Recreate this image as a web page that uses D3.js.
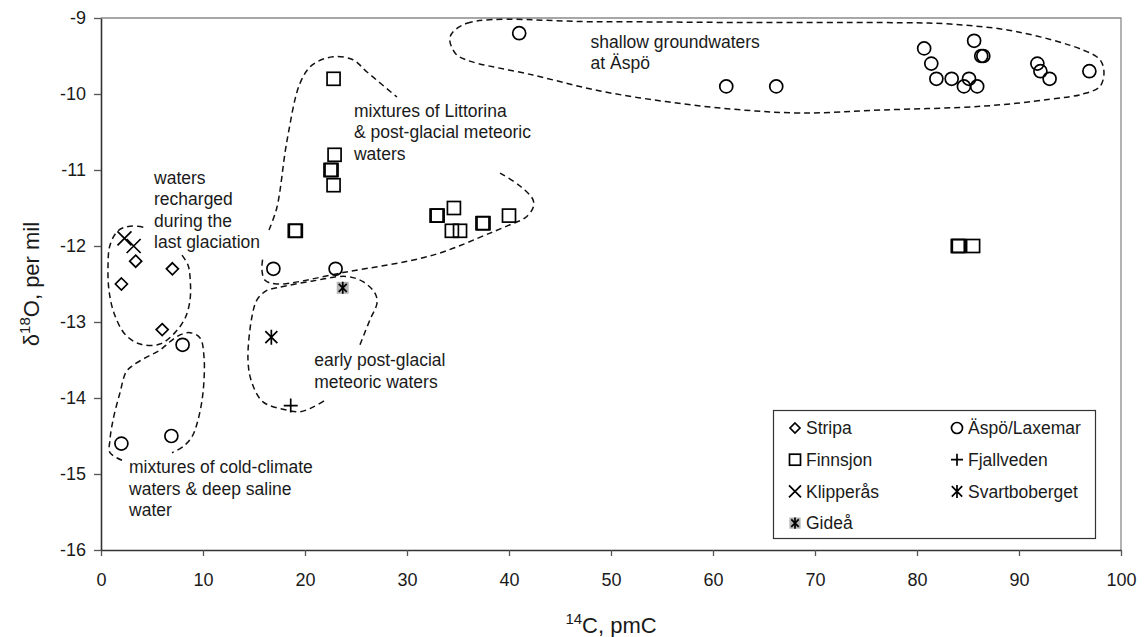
<!DOCTYPE html>
<html>
<head>
<meta charset="utf-8">
<script src="https://cdn.jsdelivr.net/npm/d3@7"></script>
<style>
  body { margin: 0; background: #fff; }
  svg text { font-family: "Liberation Sans", Arial, sans-serif; fill: #1a1a1a; }
</style>
</head>
<body>
<svg id="chart" width="1145" height="637"></svg>
<script>
// ---- axis ticks ----
const xTicks = [0, 10, 20, 30, 40, 50, 60, 70, 80, 90, 100];
const yTicks = [-16, -15, -14, -13, -12, -11, -10, -9];

// ---- samples: [14C pmC, d18O per mil] ----
const stripa = [[3.4, -12.2], [7.0, -12.3], [2.0, -12.5], [6.0, -13.1]];
const aspoLaxemar = [
  [16.9, -12.3], [23.0, -12.3], [8.0, -13.3], [2.0, -14.6], [6.9, -14.5],
  [41.0, -9.2], [61.3, -9.9], [66.2, -9.9],
  [80.7, -9.4], [81.4, -9.6], [81.9, -9.8], [83.4, -9.8], [85.1, -9.8],
  [84.6, -9.9], [85.9, -9.9], [85.6, -9.3], [86.3, -9.5], [86.5, -9.5],
  [91.8, -9.6], [92.1, -9.7], [93.0, -9.8], [96.9, -9.7]
];
const finnsjon = [
  [22.8, -9.8], [22.9, -10.8], [22.5, -11.0], [22.6, -11.0], [22.8, -11.2],
  [19.1, -11.8], [19.0, -11.8], [33.0, -11.6], [32.9, -11.6], [34.6, -11.5],
  [34.4, -11.8], [35.2, -11.8], [37.5, -11.7], [37.4, -11.7], [40.0, -11.6],
  [84.0, -12.0], [84.1, -12.0], [85.5, -12.0]
];
const fjallveden = [[18.6, -14.1]];
const klipperas = [[2.3, -11.9], [3.2, -12.0]];
const svartboberget = [[16.7, -13.2]];
const gidea = [[23.7, -12.55]];

const seriesNames = ["Stripa", "Äspö/Laxemar", "Finnsjon", "Fjallveden", "Klipperås", "Svartboberget", "Gideå"];
const seriesKinds = ["diamond", "circle", "square", "plus", "cross", "star", "starBox"];
const seriesData = [stripa, aspoLaxemar, finnsjon, fjallveden, klipperas, svartboberget, gidea];

// ---- dashed outlines of the water groups, in data units ----
const shallowOutline = [
  [34.22, -9.25], [35.88, -9.07], [48.92, -9.05], [63.63, -9.06], [76.67, -9.06],
  [83.24, -9.08], [89.80, -9.18], [96.27, -9.42], [97.94, -9.55], [98.33, -9.71],
  [97.94, -9.90], [96.27, -10.00], [93.04, -10.07], [86.47, -10.16], [76.67, -10.21],
  [68.53, -10.25], [61.96, -10.20], [55.39, -10.10], [48.92, -9.96], [42.35, -9.75],
  [35.78, -9.55], [34.71, -9.46]
];
const littorinaUpper = [
  [16.47, -11.79], [17.25, -11.49], [18.24, -10.61], [19.51, -9.86], [20.69, -9.62],
  [22.75, -9.51], [24.71, -9.55], [26.08, -9.71], [29.02, -10.04]
];
const littorinaLower = [
  [39.12, -11.04], [41.08, -11.21], [42.35, -11.39], [42.35, -11.50], [41.57, -11.63],
  [40.10, -11.72], [38.14, -11.83], [32.55, -12.12], [23.73, -12.35], [17.25, -12.50],
  [16.08, -12.45], [15.78, -12.32], [15.88, -12.14]
];
const earlyOutline = [
  [25.39, -13.30], [26.37, -12.97], [27.06, -12.75], [26.86, -12.62], [25.69, -12.47],
  [24.02, -12.40], [20.78, -12.46], [17.25, -12.55], [16.18, -12.59], [15.29, -12.71],
  [14.80, -12.93], [14.41, -13.50], [14.80, -13.80], [15.88, -14.05], [18.24, -14.16],
  [19.51, -14.18], [20.78, -14.12], [21.96, -14.03]
];
const glacialOutline = [
  [7.94, -12.12], [8.53, -12.25], [8.73, -12.41], [8.73, -12.71], [8.24, -12.95],
  [7.25, -13.14], [5.78, -13.29], [3.82, -13.29], [2.35, -13.16], [1.27, -12.88],
  [0.78, -12.58], [0.69, -12.25], [0.88, -11.99], [1.67, -11.80], [2.84, -11.74],
  [4.51, -11.76]
];
const coldOutline = [
  [2.06, -14.82], [0.88, -14.72], [0.88, -14.55], [1.18, -14.29], [1.86, -13.93],
  [2.45, -13.66], [3.14, -13.57], [4.51, -13.46], [5.78, -13.37], [6.76, -13.26],
  [7.75, -13.17], [8.73, -13.14], [9.71, -13.21], [10.10, -13.46], [10.00, -13.93],
  [9.51, -14.29], [8.92, -14.51], [8.04, -14.64], [6.96, -14.72]
];

// ---- group labels: anchor [14C, d18O] of first line, and lines ----
const groupLabels = [
  { at: [5.2, -11.18], lines: ["waters", "recharged", "during the", "last glaciation"] },
  { at: [24.8, -10.30], lines: ["mixtures of Littorina", "& post-glacial meteoric", "waters"] },
  { at: [48.0, -9.39], lines: ["shallow groundwaters", "at Äspö"] },
  { at: [20.9, -13.58], lines: ["early post-glacial", "meteoric waters"] },
  { at: [2.75, -14.99], lines: ["mixtures of cold-climate", "waters & deep saline", "water"] }
];

// ---- layout ----
const svg = d3.select("#chart");
const x = d3.scaleLinear().domain([0, 100]).range([101, 1121]);
const y = d3.scaleLinear().domain([-16, -9]).range([550, 18]);

// plot frame (top/right)
svg.append("path")
  .attr("d", `M${x(0)},${y(-9)}H${x(100)}V${y(-16)}`)
  .attr("fill", "none").attr("stroke", "#8a8a8a").attr("stroke-width", 1.3);

// axes; labels use a plain hyphen-minus
const fmt = d => String(d);
const xAxis = svg.append("g")
  .attr("transform", `translate(0,${y(-16)})`)
  .call(d3.axisBottom(x).tickValues(xTicks).tickFormat(fmt).tickSize(6).tickSizeOuter(0).tickPadding(17));
const yAxis = svg.append("g")
  .attr("transform", `translate(${x(0)},0)`)
  .call(d3.axisLeft(y).tickValues(yTicks).tickFormat(fmt).tickSize(7).tickSizeOuter(0).tickPadding(8));
[xAxis, yAxis].forEach(a => {
  a.select(".domain").attr("stroke", "#333").attr("stroke-width", 1.6);
  a.selectAll(".tick line").attr("stroke", "#555").attr("stroke-width", 1.3);
  a.selectAll(".tick text").attr("font-size", 18).attr("fill", "#1a1a1a")
    .attr("font-family", '"Liberation Sans", Arial, sans-serif');
});

// axis titles
const yTitle = svg.append("text")
  .attr("transform", `translate(39,${(y(-9) + y(-16)) / 2}) rotate(-90)`)
  .attr("text-anchor", "middle").attr("font-size", 22);
yTitle.append("tspan").text("δ");
yTitle.append("tspan").attr("font-size", 15).attr("dy", -9).text("18");
yTitle.append("tspan").attr("dy", 9).text("O, per mil");

const xTitle = svg.append("text")
  .attr("x", (x(0) + x(100)) / 2).attr("y", 633)
  .attr("text-anchor", "middle").attr("font-size", 22);
xTitle.append("tspan").attr("font-size", 15).attr("dy", -9).text("14");
xTitle.append("tspan").attr("dy", 9).text("C, pmC");

// dashed outlines
const openLine = d3.line().x(d => x(d[0])).y(d => y(d[1])).curve(d3.curveCatmullRom.alpha(0.5));
const closedLine = d3.line().x(d => x(d[0])).y(d => y(d[1])).curve(d3.curveCatmullRomClosed.alpha(0.5));
const outlines = svg.append("g").attr("fill", "none").attr("stroke", "#111")
  .attr("stroke-width", 1.5).attr("stroke-dasharray", "6,4");
outlines.append("path").attr("d", closedLine(shallowOutline));
[littorinaUpper, littorinaLower, earlyOutline, glacialOutline, coldOutline].forEach(o =>
  outlines.append("path").attr("d", openLine(o)));

// group labels
groupLabels.forEach(l => {
  const t = svg.append("text").attr("font-size", 17.5)
    .attr("x", x(l.at[0])).attr("y", y(l.at[1]));
  l.lines.forEach((s, i) => t.append("tspan").attr("x", x(l.at[0])).attr("dy", i ? 21.5 : 0).text(s));
});

// marker glyphs
function marker(g, kind, s) {
  const sw = 1.7;
  if (kind === "diamond") {
    g.append("path").attr("d", `M0,${-s}L${s},0L0,${s}L${-s},0Z`).attr("fill", "#fff").attr("stroke", "#000").attr("stroke-width", sw);
  } else if (kind === "circle") {
    g.append("circle").attr("r", s).attr("fill", "none").attr("stroke", "#000").attr("stroke-width", sw);
  } else if (kind === "square") {
    g.append("rect").attr("x", -s).attr("y", -s).attr("width", 2 * s).attr("height", 2 * s)
      .attr("fill", "none").attr("stroke", "#000").attr("stroke-width", sw);
  } else if (kind === "plus") {
    g.append("path").attr("d", `M${-s},0H${s}M0,${-s}V${s}`).attr("stroke", "#000").attr("stroke-width", sw);
  } else if (kind === "cross") {
    g.append("path").attr("d", `M${-s},${-s}L${s},${s}M${-s},${s}L${s},${-s}`).attr("stroke", "#000").attr("stroke-width", sw);
  } else if (kind === "star") {
    const a = s * 0.8;
    g.append("path").attr("d", `M${-a},${-a}L${a},${a}M${-a},${a}L${a},${-a}M0,${-s}V${s}`).attr("stroke", "#000").attr("stroke-width", sw);
  } else if (kind === "starBox") {
    const b = s * 0.75, a = s * 0.5;
    g.append("rect").attr("x", -b).attr("y", -b).attr("width", 2 * b).attr("height", 2 * b).attr("fill", "#b5b5b5");
    g.append("path").attr("d", `M${-a},${-a}L${a},${a}M${-a},${a}L${a},${-a}M0,${-b}V${b}`).attr("stroke", "#000").attr("stroke-width", 1.7);
  }
}

const plotSize = { diamond: 6, circle: 6.5, square: 6.5, plus: 7, cross: 7, star: 7.5, starBox: 8 };
seriesData.forEach((data, i) => {
  const kind = seriesKinds[i];
  svg.append("g").selectAll("g").data(data).join("g")
    .attr("transform", d => `translate(${x(d[0])},${y(d[1])})`)
    .each(function () { marker(d3.select(this), kind, plotSize[kind]); });
});

// legend
const lg = svg.append("g");
lg.append("rect").attr("x", 773.5).attr("y", 410.5).attr("width", 322).attr("height", 128)
  .attr("fill", "#fff").attr("stroke", "#333").attr("stroke-width", 1.2);
const legendSize = { diamond: 5, circle: 5.5, square: 5.5, plus: 6, cross: 6, star: 6.5, starBox: 7.5 };
seriesNames.forEach((name, i) => {
  const col = i % 2, row = Math.floor(i / 2);
  const mx = col ? 957 : 795, my = 428 + row * 31.7;
  const g = lg.append("g").attr("transform", `translate(${mx},${my})`);
  marker(g, seriesKinds[i], legendSize[seriesKinds[i]]);
  lg.append("text").attr("x", mx + 11).attr("y", my + 6.3).attr("font-size", 17.5).text(name);
});
</script>
</body>
</html>
